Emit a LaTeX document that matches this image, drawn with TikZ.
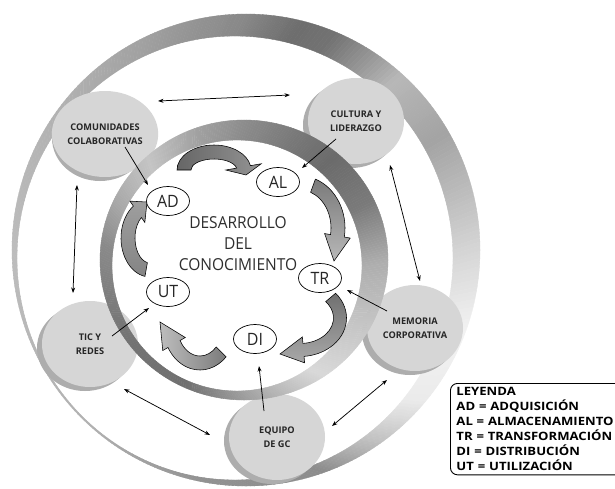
\documentclass[tikz,border=0pt]{standalone}
\usepackage{fontspec}
\setmainfont{Open Sans}
\newfontfamily\legfont[FakeStretch=1.14]{Open Sans}
\newfontfamily\centfont[FakeStretch=0.94]{Open Sans}
\usetikzlibrary{calc,arrows.meta,shapes.geometric}
% gradient crescent: #1,#2 outer centre, #3,#4 outer radii, #5,#6 inner centre, #7,#8 inner radii, #9 keys
\newcommand\gradring[9]{%
  \foreach \aa/\bb/\ga/\gb in {#9}{%
    \pgfmathtruncatemacro\nn{\bb-\aa}%
    \foreach \ii in {1,...,\nn}{%
      \pgfmathsetmacro\xa{\aa+\ii-1}%
      \pgfmathsetmacro\xb{\aa+\ii}%
      \pgfmathsetmacro\gg{\ga+(\gb-\ga)*(\ii-0.5)/\nn}%
      \fill[black!\gg, draw=black!\gg, line width=0.35pt]
        ({#1+#3*cos(\xa)},{#2+#4*sin(\xa)}) -- ({#1+#3*cos(\xb)},{#2+#4*sin(\xb)})
        -- ({#5+#7*cos(\xb)},{#6+#8*sin(\xb)}) -- ({#5+#7*cos(\xa)},{#6+#8*sin(\xa)}) -- cycle;
    }%
  }%
}
% curved block arrow: [style]{centre}{rx}{ry}{half width}{head half width}{start}{head base}{tip}
\newcommand\carrow[9][]{%
  \path[#1] ($(#2)+(#7:{#3+#5} and {#4+#5})$)
    arc[start angle=#7, end angle=#8, x radius={#3+#5}, y radius={#4+#5}]
    -- ($(#2)+(#8:{#3+#6} and {#4+#6})$) -- (#9)
    -- ($(#2)+(#8:{#3-#6} and {#4-#6})$) -- ($(#2)+(#8:{#3-#5} and {#4-#5})$)
    arc[start angle=#8, end angle=#7, x radius={#3-#5}, y radius={#4-#5}] -- cycle;
}
\begin{document}
\begin{tikzpicture}[x=1pt,y=-1pt,
  conn/.style={line width=0.75pt, -{Stealth[length=5.5pt,width=4pt]}},
  dconn/.style={line width=0.75pt, {Stealth[length=5.5pt,width=4pt]}-{Stealth[length=5.5pt,width=4pt]}},
  sat/.style={ellipse, fill=black!16, minimum width=96pt, minimum height=86pt, inner sep=0pt,
    align=center, text=black!85, font=\fontsize{9.2}{13.5}\selectfont\bfseries},
  satshadow/.style={fill=black!32},
  phase/.style={ellipse, draw=black, line width=0.7pt, fill=white, minimum width=43pt,
    minimum height=29pt, inner sep=0pt, text=black!85, font=\centfont\fontsize{17}{17}\selectfont},
  blockarrow/.style={draw=black, line width=0.55pt}]
\clip (0,0) rectangle (615,488);
\fill[white] (0,0) rectangle (615,488);
% outer ring
\gradring{246}{250}{234}{236}{235}{258}{218}{222}{0/20/16/5, 20/40/5/8, 40/55/8/25, 55/70/25/45, 70/100/45/43, 100/130/43/31, 130/180/31/26, 180/222/26/31, 222/245/31/37, 245/271/37/47, 271/284/47/57, 284/293/57/55, 293/304/55/40, 304/312/40/28, 312/330/28/36, 330/360/36/16}
% satellites
\fill[satshadow] (100,138) ellipse [x radius=48, y radius=43];
\node[sat] (com) at (105,134) {COMUNIDADES\\COLABORATIVAS};
\fill[satshadow] (351,125) ellipse [x radius=48, y radius=43];
\node[sat] (cul) at (356,121) {CULTURA Y\\LIDERAZGO};
\fill[satshadow] (410,332) ellipse [x radius=48, y radius=43];
\node[sat] (mem) at (415,328) {MEMORIA\\CORPORATIVA};
\fill[satshadow] (85,348) ellipse [x radius=48, y radius=43];
\node[sat] (tic) at (90,344) {TIC Y\\REDES};
\fill[satshadow] (272,441) ellipse [x radius=48, y radius=43];
\node[sat] (equ) at (277,437) {EQUIPO\\DE GC};
% inner ring
\gradring{244}{260}{144}{140}{237}{265.5}{125}{125.5}{0/30/32/22, 30/56/22/15, 56/82/15/33, 82/114/33/56, 114/145/56/55, 145/187/55/46, 187/206/46/34, 206/228/34/23, 228/252/23/37, 252/274/37/46, 274/294/46/53, 294/311/53/58, 311/335/58/52, 335/360/52/32}
% curved block arrows
\carrow[blockarrow, left color=black!60, right color=black!42]{214,170}{30}{18}{7}{18}{180}{350}{246,175}
\carrow[blockarrow, top color=black!52, bottom color=black!28]{300,228}{38}{45}{7}{13}{290}{370}{334,261}
\carrow[blockarrow, top color=black!56, bottom color=black!34]{300,318}{40}{32}{6.5}{13}{320}{445}{280,354}
\carrow[blockarrow, left color=black!26, right color=black!52]{200,325}{30}{38}{7}{13}{45}{150}{160,322}
\carrow[blockarrow, top color=black!38, bottom color=black!48]{150,238}{22}{32}{7}{13}{100}{235}{147,202}
% phases
\node[phase] (ad) at (168,201) {AD};
\node[phase] (al) at (278,182) {AL};
\node[phase] (tr) at (320,278) {TR};
\node[phase] (di) at (255,339) {DI};
\node[phase] (ut) at (168,292) {UT};
% centre text
\node[align=center, text=black!82, font=\centfont\fontsize{16.5}{21}\selectfont] (dc) at (238,244)
  {DESARROLLO\\DEL\\CONOCIMIENTO};
% connectors
\coordinate (p1) at (158,101); \coordinate (p2) at (290,95);
\coordinate (p3) at (77,185);  \coordinate (p4) at (73,293);
\coordinate (p5) at (390,165); \coordinate (p6) at (420,281);
\coordinate (p7) at (124,389); \coordinate (p8) at (210,435);
\coordinate (p9) at (332,426); \coordinate (p10) at (387,380);
\draw[dconn] (p1) -- (p2);
\draw[dconn] (p3) -- (p4);
\draw[dconn] (p5) -- (p6);
\draw[dconn] (p7) -- (p8);
\draw[dconn] (p9) -- (p10);
\coordinate (q1) at (125,147); \coordinate (r1) at (148,185);
\coordinate (q2) at (336,139); \coordinate (r2) at (302,168);
\coordinate (q3) at (387,311); \coordinate (r3) at (347,290);
\coordinate (q4) at (112,336); \coordinate (r4) at (149,308);
\coordinate (q5) at (264,411); \coordinate (r5) at (259,366);
\draw[conn] (q1) -- (r1);
\draw[conn] (q2) -- (r2);
\draw[conn] (q3) -- (r3);
\draw[conn] (q4) -- (r4);
\draw[conn] (q5) -- (r5);
% legend
\node[draw=black, line width=0.9pt, rounded corners=7pt, anchor=north west, align=left,
  inner xsep=6pt, inner ysep=4pt, text width=185pt,
  font=\legfont\fontsize{11.5}{15}\selectfont\bfseries] (leg) at (450,383)
  {LEYENDA\\AD = ADQUISICIÓN\\AL = ALMACENAMIENTO\\TR = TRANSFORMACIÓN\\DI = DISTRIBUCIÓN\\UT = UTILIZACIÓN};
\end{tikzpicture}
\end{document}
